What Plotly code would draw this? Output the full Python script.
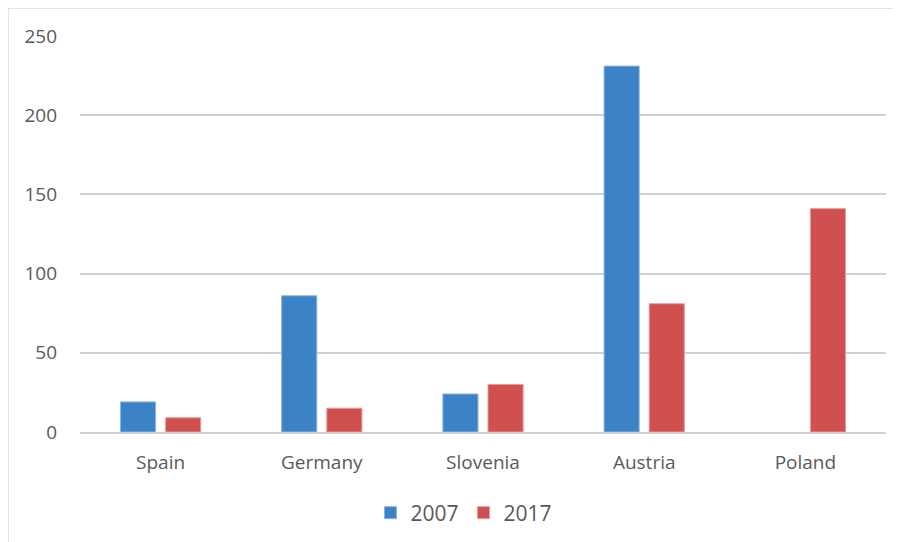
import plotly.graph_objects as go

categories = ["Spain", "Germany", "Slovenia", "Austria", "Poland"]
values_2007 = [19, 86, 24, 231, None]
values_2017 = [9, 15, 30, 81, 141]
series_names = ["2007", "2017"]
y_ticks = [0, 50, 100, 150, 200, 250]

# page body has an 8px offset; figure coordinates are screen minus 8
W, H = 901, 542
OFF = 8
ML, MT = 80 - OFF, 36 - OFF
MR = W - (886 - OFF)
MB = H - (432 - OFF)
pw = W - ML - MR
ph = H - MT - MB

fig = go.Figure()
fig.add_trace(go.Bar(x=categories, y=values_2007, name=series_names[0],
                     marker=dict(color="#3C82C6", line=dict(color="#8DB6E0", width=1))))
fig.add_trace(go.Bar(x=categories, y=values_2017, name=series_names[1],
                     marker=dict(color="#D05050", line=dict(color="#E99A9A", width=1))))

font = dict(family="Open Sans, Liberation Sans, sans-serif", size=19, color="#595959")
lfont = dict(family="Open Sans, Liberation Sans, sans-serif", size=21, color="#595959")

fig.update_layout(
    width=W, height=H,
    margin=dict(l=ML, r=MR, t=MT, b=MB, autoexpand=False),
    paper_bgcolor="white", plot_bgcolor="white",
    barmode="group", bargap=0.44, bargroupgap=0.222,
    font=font,
    showlegend=True,
    legend=dict(orientation="h", x=(464 - 80) / pw, xanchor="center",
                y=(432 - 513) / ph, yanchor="middle",
                font=lfont, itemwidth=30, traceorder="normal"),
    xaxis=dict(showgrid=False, showline=True, linecolor="#D0D0D0", linewidth=1.5,
               ticks="", tickfont=font, ticklabelstandoff=12),
    yaxis=dict(range=[0, 250], tickvals=y_ticks, showgrid=True, gridcolor="#D0D0D0",
               gridwidth=1.5, zeroline=False, showline=False, ticks="",
               tickfont=font, ticklabelstandoff=22),
)

# outer chart border (top and left visible edges), at screen x=8, y=8
bx = (8 - 80) / pw
by = 1 + (36 - 8) / ph
fig.add_shape(type="line", xref="paper", yref="paper", x0=bx, x1=(W + 10 - 80) / pw,
              y0=by, y1=by, line=dict(color="#D9D9D9", width=1.5))
fig.add_shape(type="line", xref="paper", yref="paper", x0=bx, x1=bx,
              y0=by, y1=-(H + 10 - 432) / ph, line=dict(color="#D9D9D9", width=1.5))

fig.write_html("out.html")
